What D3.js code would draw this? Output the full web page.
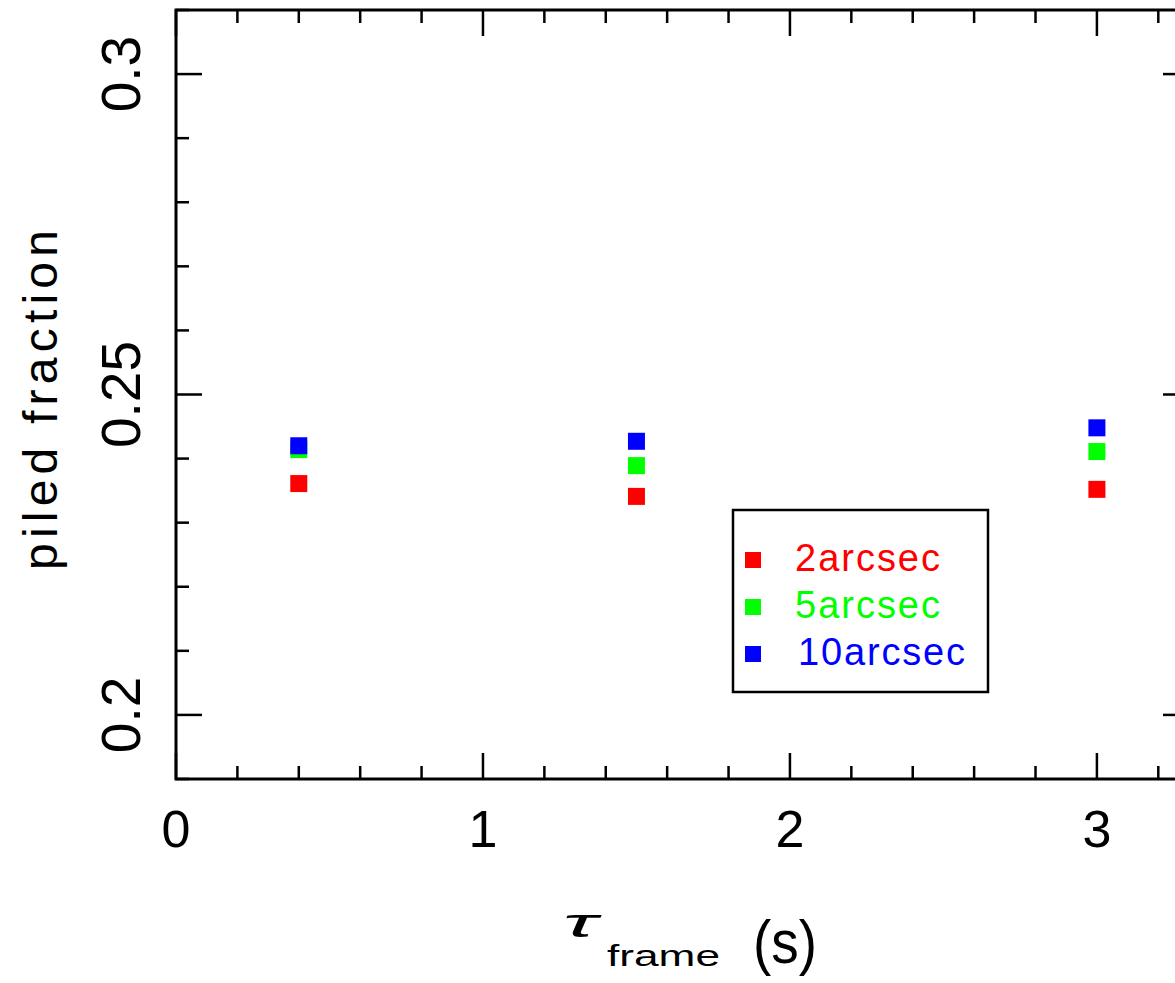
<!DOCTYPE html>
<html>
<head>
<meta charset="utf-8">
<script src="https://cdn.jsdelivr.net/npm/d3@7"></script>
<style>
  body { margin: 0; background: #fff; }
  svg { display: block; }
  text { font-family: "Liberation Sans", Arial, sans-serif; }
</style>
</head>
<body>
<svg id="chart" width="1175" height="983"></svg>
<script>
// frame times (s) and piled fraction for each extraction radius
var tau = [0.4, 1.5, 3.0];
var series = ["2arcsec", "5arcsec", "10arcsec"];
var colors = ["#ff0000", "#00ff00", "#0000ff"];
var piled2 = [0.2361, 0.2341, 0.2352];
var piled5 = [0.2414, 0.2389, 0.2411];
var piled10 = [0.2420, 0.2427, 0.2448];
var xMajor = [0, 1, 2, 3];
var yMajor = [0.2, 0.25, 0.3];

var svg = d3.select("#chart");

var mLeft = 176, mRight = 1189, mTop = 10, mBottom = 779;

var x = d3.scaleLinear().domain([0, 3.3]).range([mLeft, mRight]);
var y = d3.scaleLinear().domain([0.19, 0.31]).range([mBottom, mTop]);

var xMinor = d3.range(0, 3.3001, 0.2).map(function(d) { return +d.toFixed(1); });
var yMinor = d3.range(0.19, 0.3101, 0.01).map(function(d) { return +d.toFixed(2); });

function isMajor(list, v) {
  return list.some(function(m) { return Math.abs(m - v) < 1e-6; });
}

var ticks = svg.append("g")
    .attr("stroke", "#000")
    .attr("stroke-width", 2.5);

// x ticks, bottom and top
xMinor.forEach(function(v) {
  var len = isMajor(xMajor, v) ? 26 : 13;
  ticks.append("line")
      .attr("x1", x(v)).attr("x2", x(v))
      .attr("y1", mBottom).attr("y2", mBottom - len);
  ticks.append("line")
      .attr("x1", x(v)).attr("x2", x(v))
      .attr("y1", mTop).attr("y2", mTop + len);
});

// y ticks, left and right
yMinor.forEach(function(v) {
  var len = isMajor(yMajor, v) ? 26 : 13;
  ticks.append("line")
      .attr("y1", y(v)).attr("y2", y(v))
      .attr("x1", mLeft).attr("x2", mLeft + len);
  ticks.append("line")
      .attr("y1", y(v)).attr("y2", y(v))
      .attr("x1", mRight).attr("x2", mRight - len);
});

svg.append("rect")
    .attr("x", mLeft).attr("y", mTop)
    .attr("width", mRight - mLeft).attr("height", mBottom - mTop)
    .attr("fill", "none")
    .attr("stroke", "#000")
    .attr("stroke-width", 3);

// tick labels
svg.selectAll(".xlab")
    .data(xMajor)
  .enter().append("text")
    .attr("class", "xlab")
    .attr("x", function(d) { return x(d); })
    .attr("y", 847)
    .attr("text-anchor", "middle")
    .attr("font-size", 52)
    .text(function(d) { return d; });

svg.selectAll(".ylab")
    .data(yMajor)
  .enter().append("text")
    .attr("class", "ylab")
    .attr("transform", function(d) { return "translate(140," + y(d) + ")rotate(-90)"; })
    .attr("text-anchor", "middle")
    .attr("font-size", 55)
    .text(function(d) { return d; });

// axis titles
svg.append("text")
    .attr("transform", "translate(57,400)rotate(-90)")
    .attr("text-anchor", "middle")
    .attr("font-size", 48)
    .attr("textLength", 340)
    .attr("lengthAdjust", "spacing")
    .text("piled fraction");

svg.append("text")
    .attr("x", 563).attr("y", 937)
    .attr("font-size", 40)
    .attr("font-family", "DejaVu Sans")
    .attr("font-style", "oblique")
    .attr("textLength", 34)
    .attr("lengthAdjust", "spacingAndGlyphs")
    .text("τ");
svg.append("text")
    .attr("x", 607).attr("y", 966)
    .attr("font-size", 30)
    .attr("textLength", 113)
    .attr("lengthAdjust", "spacingAndGlyphs")
    .text("frame");
svg.append("text")
    .attr("x", 753).attr("y", 963)
    .attr("font-size", 62)
    .attr("textLength", 64)
    .attr("lengthAdjust", "spacingAndGlyphs")
    .text("(s)");

// points
var all = [piled2, piled5, piled10];
var size = 17;
all.forEach(function(vals, k) {
  svg.selectAll(".pt" + k)
      .data(vals)
    .enter().append("rect")
      .attr("class", "pt" + k)
      .attr("x", function(d, i) { return x(tau[i]) - size / 2; })
      .attr("y", function(d) { return y(d) - size / 2; })
      .attr("width", size).attr("height", size)
      .attr("fill", colors[k]);
});

// legend
var legend = svg.append("g");
legend.append("rect")
    .attr("x", 733).attr("y", 510)
    .attr("width", 255).attr("height", 182)
    .attr("fill", "#fff")
    .attr("stroke", "#000")
    .attr("stroke-width", 2.5);

var rowY = [560, 607, 654];
var textW = [145, 145, 167];
series.forEach(function(s, k) {
  legend.append("rect")
      .attr("x", 745).attr("y", rowY[k] - 8)
      .attr("width", 16).attr("height", 16)
      .attr("fill", colors[k]);
  legend.append("text")
      .attr("x", k == 2 ? 798 : 795)
      .attr("y", rowY[k] + 11)
      .attr("font-size", 38)
      .attr("fill", colors[k])
      .attr("textLength", textW[k])
      .attr("lengthAdjust", "spacing")
      .text(s);
});
</script>
</body>
</html>
